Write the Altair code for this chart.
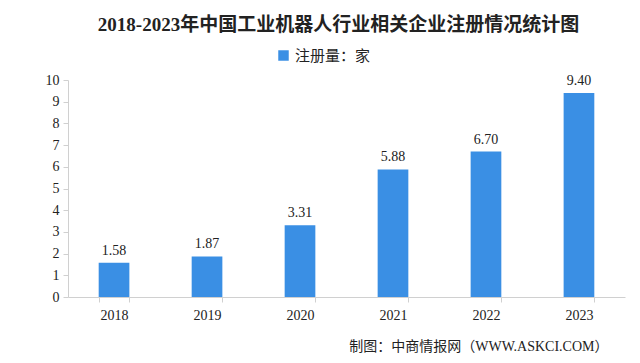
import altair as alt
import pandas as pd

years = ["2018", "2019", "2020", "2021", "2022", "2023"]
values = [1.58, 1.87, 3.31, 5.88, 6.70, 9.40]
series = "注册量：家"
y_ticks = list(range(0, 11))

df = pd.DataFrame({"year": years, "value": values, "series": [series] * len(years)})
df["label"] = [f"{v:.2f}" for v in values]

FONT = "Liberation Serif, Noto Sans CJK SC"
BLUE = "#3a8fe4"

base = alt.Chart(df).encode(
    x=alt.X(
        "year:N",
        title="制图：中商情报网（WWW.ASKCI.COM）",
        scale=alt.Scale(paddingInner=0.67, paddingOuter=0.33),
        axis=alt.Axis(
            labelAngle=0,
            labelFont=FONT,
            labelFontSize=14,
            labelColor="#222222",
            labelPadding=6,
            domainColor="#d0d0d0",
            tickColor="#d0d0d0",
            tickBand="extent",
            tickSize=5,
            titleFont=FONT,
            titleFontSize=14,
            titleFontWeight="normal",
            titleColor="#222222",
            titleAnchor="end",
            titleAlign="right",
            titleBaseline="middle",
            titleX=540,
            titleY=49,
        ),
    ),
    y=alt.Y(
        "value:Q",
        title=None,
        scale=alt.Scale(domain=[0, 10], nice=False),
        axis=alt.Axis(
            values=y_ticks,
            grid=False,
            labelFont=FONT,
            labelFontSize=14,
            labelColor="#222222",
            labelPadding=4,
            domainColor="#d0d0d0",
            tickColor="#d0d0d0",
            tickSize=5,
        ),
    ),
)

bars = base.mark_bar(color=BLUE).encode(
    color=alt.Color(
        "series:N",
        scale=alt.Scale(range=[BLUE]),
        legend=alt.Legend(
            title=None,
            orient="none",
            legendX=208,
            legendY=-32,
            symbolType="square",
            symbolSize=110,
            labelFont=FONT,
            labelFontSize=15,
            labelColor="#222222",
        ),
    )
)

labels = base.mark_text(dy=-12, font=FONT, fontSize=14, color="#222222").encode(
    text="label:N"
)

chart = (
    alt.layer(bars, labels)
    .properties(
        width=557,
        height=217,
        autosize=alt.AutoSizeParams(type="none"),
        padding={"left": 60, "top": 72, "right": 7, "bottom": 58},
        title=alt.TitleParams(
            "2018-2023年中国工业机器人行业相关企业注册情况统计图",
            font=FONT,
            fontSize=19,
            fontWeight="bold",
            color="#222222",
            anchor="middle",
            frame="group",
            offset=13,
            dx=-8,
        ),
        background="white",
    )
    .configure_view(stroke=None)
)

chart.save("out.html", embed_options={"renderer": "svg", "actions": False})
